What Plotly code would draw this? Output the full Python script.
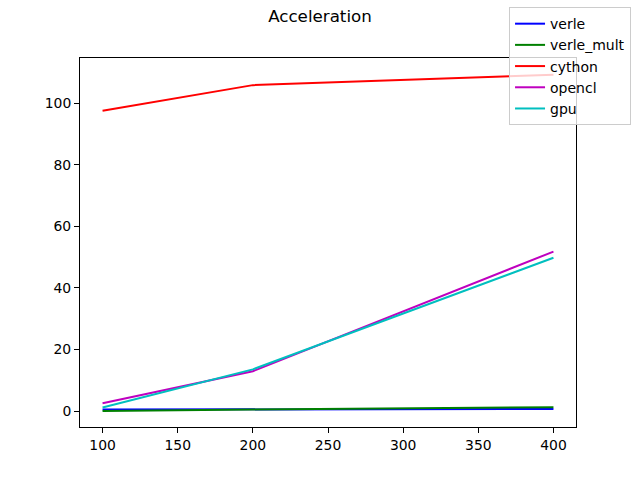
import plotly.graph_objects as go

# problem sizes
sizes = [100, 200, 400]

# acceleration per implementation
verle = [0.55, 0.65, 0.75]
verle_mult = [0.1, 0.6, 1.3]
cython = [97.5, 105.8, 109.2]
opencl = [2.6, 13.0, 51.8]
gpu = [1.2, 13.6, 49.8]

series = [
    ("verle", verle, "#0000ff"),
    ("verle_mult", verle_mult, "#008000"),
    ("cython", cython, "#ff0000"),
    ("opencl", opencl, "#bf00bf"),
    ("gpu", gpu, "#00bfbf"),
]

fig = go.Figure()
for name, vals, color in series:
    fig.add_trace(go.Scatter(
        x=sizes, y=vals, name=name, mode="lines",
        line=dict(color=color, width=2),
    ))

axis_style = dict(
    showgrid=False, zeroline=False, showline=True, linecolor="black",
    linewidth=1, mirror=True, ticks="outside", ticklen=5, tickcolor="black",
    tickfont=dict(size=13.9, color="black"),
)

fig.update_layout(
    width=640, height=480,
    margin=dict(l=80, r=64, t=58, b=53, autoexpand=False),
    paper_bgcolor="white", plot_bgcolor="white",
    font=dict(family="DejaVu Sans", color="black"),
    title=dict(text="Acceleration", xref="container", x=0.5, xanchor="center",
               yref="container", y=0.979, yanchor="top", font=dict(size=16.7)),
    xaxis=dict(range=[85, 415], tickvals=[100, 150, 200, 250, 300, 350, 400], **axis_style),
    yaxis=dict(range=[-5.1, 114.6], tickvals=[0, 20, 40, 60, 80, 100], **axis_style),
    legend=dict(x=0.865, y=1.138, xanchor="left", yanchor="top",
                bgcolor="rgba(255,255,255,0.8)", bordercolor="#cccccc", borderwidth=1,
                font=dict(size=14), tracegroupgap=0),
)

# page has a default 8px body margin; drop it so the figure fills the window
fig.write_html("out.html", config={"displayModeBar": False},
               post_script="document.body.style.margin='0';")
